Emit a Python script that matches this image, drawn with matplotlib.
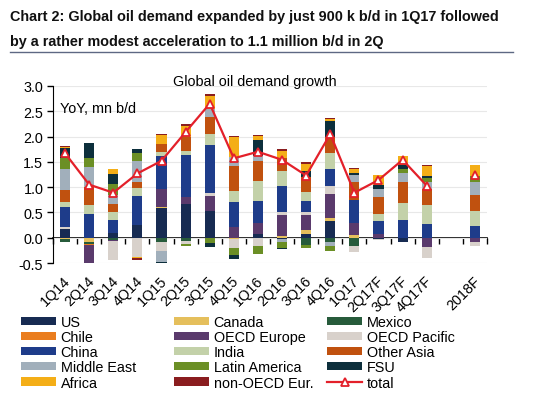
import numpy as np
import matplotlib.pyplot as plt
from matplotlib.lines import Line2D
from matplotlib import transforms

plt.rcParams['font.family'] = ['Liberation Sans', 'DejaVu Sans']

quarters = ['1Q14', '2Q14', '3Q14', '4Q14', '1Q15', '2Q15', '3Q15', '4Q15',
            '1Q16', '2Q16', '3Q16', '4Q16', '1Q17', '2Q17F', '3Q17F', '4Q17F',
            '2018F']
# one empty slot between 4Q17F and 2018F
positions = np.r_[np.arange(16), 17]

# YoY demand growth by region, mn b/d
us = [0.18, 0, 0.09, 0.25, 0.59, 0.67, 0.53, 0, 0.08, -0.03, 0.07, 0.33, 0, -0.02, -0.08, 0, 0]
canada = [-0.03, -0.08, 0, 0, 0.02, 0, 0, -0.03, 0, 0.04, 0.08, 0.05, 0.05, 0, 0, 0, 0]
mexico = [-0.05, -0.04, -0.05, 0, -0.09, -0.06, 0, 0, 0, 0, -0.14, -0.09, -0.16, 0, 0, 0, 0]
chile = [0, -0.02, 0, 0, 0, 0, 0, 0, 0, 0, 0, 0, 0, 0, 0, 0, 0]
oecd_europe = [0, -0.36, -0.01, 0, 0.36, 0.13, 0.29, 0.22, 0.22, 0.40, 0.29, 0.49, 0.25, 0.08, 0, -0.18, -0.08]
oecd_pacific = [0.03, 0, -0.39, -0.38, -0.18, -0.06, 0.07, -0.17, -0.16, 0.06, 0.07, 0.15, -0.13, -0.02, 0, -0.22, -0.08]
china = [0.39, 0.46, 0.26, 0.57, 0.64, 0.83, 0.95, 0.49, 0.43, 0.53, 0.22, 0.34, 0.44, 0.26, 0.35, 0.28, 0.23]
india = [0.11, 0.18, 0.15, 0.17, 0.09, 0.09, 0.21, 0.22, 0.39, 0.28, 0.17, 0.31, 0, 0.13, 0.34, 0.36, 0.30]
other_asia = [0.24, 0.37, 0.17, 0.12, 0.15, 0.28, 0.34, 0.49, 0.39, 0.26, 0.31, 0.33, 0.37, 0.33, 0.42, 0.32, 0.31]
middle_east = [0.40, 0.38, 0.18, 0.41, -0.22, 0, 0.16, 0.18, 0.10, -0.05, 0, -0.07, 0.13, 0.17, 0.17, 0.14, 0.26]
latin_america = [0.23, 0.18, 0.22, 0.15, 0, -0.04, -0.11, -0.14, -0.16, -0.12, -0.07, -0.11, 0, 0, 0.07, 0.08, 0.13]
fsu = [0.20, 0.30, 0.19, 0.09, -0.02, 0, -0.07, -0.08, 0.32, -0.02, 0.11, 0.30, 0.04, 0.08, 0.09, 0.05, 0]
africa = [0.02, 0, 0.09, -0.03, 0.18, 0.21, 0.26, 0.39, 0.08, 0.14, 0.14, 0.04, 0.08, 0.19, 0.18, 0.19, 0.21]
non_oecd_eur = [0.01, 0, 0, -0.03, 0.02, 0.03, 0.03, 0.02, 0.03, 0.05, 0.03, 0.02, 0.01, 0.01, 0, 0.02, 0]
total = [1.67, 1.05, 0.89, 1.27, 1.52, 2.09, 2.65, 1.57, 1.70, 1.54, 1.23, 2.05, 0.89, 1.14, 1.54, 1.03, 1.25]

series = [
    ('US', us, '#172b52'),
    ('Canada', canada, '#e5bf5c'),
    ('Mexico', mexico, '#275b3b'),
    ('Chile', chile, '#ea7d1e'),
    ('OECD Europe', oecd_europe, '#5a3a6c'),
    ('OECD Pacific', oecd_pacific, '#d8d1cb'),
    ('China', china, '#1e3c8a'),
    ('India', india, '#c3d1a9'),
    ('Other Asia', other_asia, '#c0510f'),
    ('Middle East', middle_east, '#a1afbb'),
    ('Latin America', latin_america, '#6b8f25'),
    ('FSU', fsu, '#0d2f3c'),
    ('Africa', africa, '#f4ae17'),
    ('non-OECD Eur.', non_oecd_eur, '#8a1d1f'),
]

fig = plt.figure(figsize=(5.49, 4.02), dpi=100)
ax = fig.add_axes([53 / 549, 1 - 264 / 402, 434 / 549, 177 / 402])

handles = []
pos_base = np.zeros(len(positions))
neg_base = np.zeros(len(positions))
for name, vals, col in series:
    v = np.array(vals, dtype=float)
    base = np.where(v >= 0, pos_base, neg_base)
    bars = ax.bar(positions, v, 0.42, bottom=base, color=col, linewidth=0, zorder=2)
    handles.append((bars, name))
    pos_base += np.clip(v, 0, None)
    neg_base += np.clip(v, None, 0)

t = np.array(total)
line_style = dict(color='#e3202a', lw=1.6, marker='^', markersize=6,
                  markerfacecolor='white', markeredgecolor='#e3202a',
                  markeredgewidth=1.3, zorder=4)
tl, = ax.plot(positions[:16], t[:16], **line_style)
ax.plot(positions[16:], t[16:], linestyle='none', **{k: v for k, v in line_style.items() if k != 'lw'})
handles.append((tl, 'total'))

ax.set_xlim(-0.5, 17.5)
ax.set_ylim(-0.5, 3.0)
ax.set_yticks(np.arange(-0.5, 3.01, 0.5))
ax.set_yticklabels(['%.1f' % y for y in np.arange(-0.5, 3.01, 0.5)])
ax.grid(axis='y', color='#e8e8e8', lw=0.8, zorder=0)
ax.set_axisbelow(True)
for s in ['top', 'right', 'bottom']:
    ax.spines[s].set_visible(False)
ax.spines['left'].set_color('black')
ax.tick_params(axis='y', direction='out', length=4, width=1, labelsize=10.4, pad=3)

ax.set_xticks(positions)
ax.set_xticklabels(quarters, rotation=45, ha='right', va='top', fontsize=10.4)
ax.tick_params(axis='x', length=0, pad=7.5)
shift = transforms.ScaledTranslation(8 / 100, 0, fig.dpi_scale_trans)
for lbl in ax.get_xticklabels():
    lbl.set_transform(lbl.get_transform() + shift)

# zero line with category boundary ticks
zero_loc = (0 - (-0.5)) / 3.5
sec = ax.secondary_xaxis(zero_loc)
sec.set_xticks(np.arange(-0.5, 17.6, 1))
sec.set_xticklabels([])
sec.tick_params(direction='out', length=4, width=1)
sec.spines['bottom'].set_linewidth(1.2)

ax.text(0.015, 0.855, 'YoY, mn b/d', transform=ax.transAxes, fontsize=10.4,
        va='baseline', ha='left')
fig.text(255 / 549, 1 - 86 / 402, 'Global oil demand growth', fontsize=10.4,
         ha='center', va='baseline')

fig.text(10 / 549, 1 - 20.5 / 402,
         'Chart 2: Global oil demand expanded by just 900 k b/d in 1Q17 followed',
         fontsize=10.4, fontweight='bold', va='baseline', color='#111111')
fig.text(10 / 549, 1 - 46 / 402,
         'by a rather modest acceleration to 1.1 million b/d in 2Q',
         fontsize=10.4, fontweight='bold', va='baseline', color='#111111')
fig.add_artist(Line2D([10 / 549, 513 / 549], [1 - 53 / 402] * 2,
                      color='#5d6883', lw=1))

# legend laid out in three equal-width columns, row by row
for c, x0 in enumerate([21, 174, 327]):
    group = handles[c::3]
    fig.legend([h for h, _ in group], [n for _, n in group],
               loc='upper left', bbox_to_anchor=(x0 / 549, 1 - 316 / 402),
               frameon=False, fontsize=10.4, handlelength=2.45,
               handleheight=0.5, handletextpad=0.3, labelspacing=0.08,
               borderpad=0, borderaxespad=0)

fig.savefig('out.png', dpi=100)
